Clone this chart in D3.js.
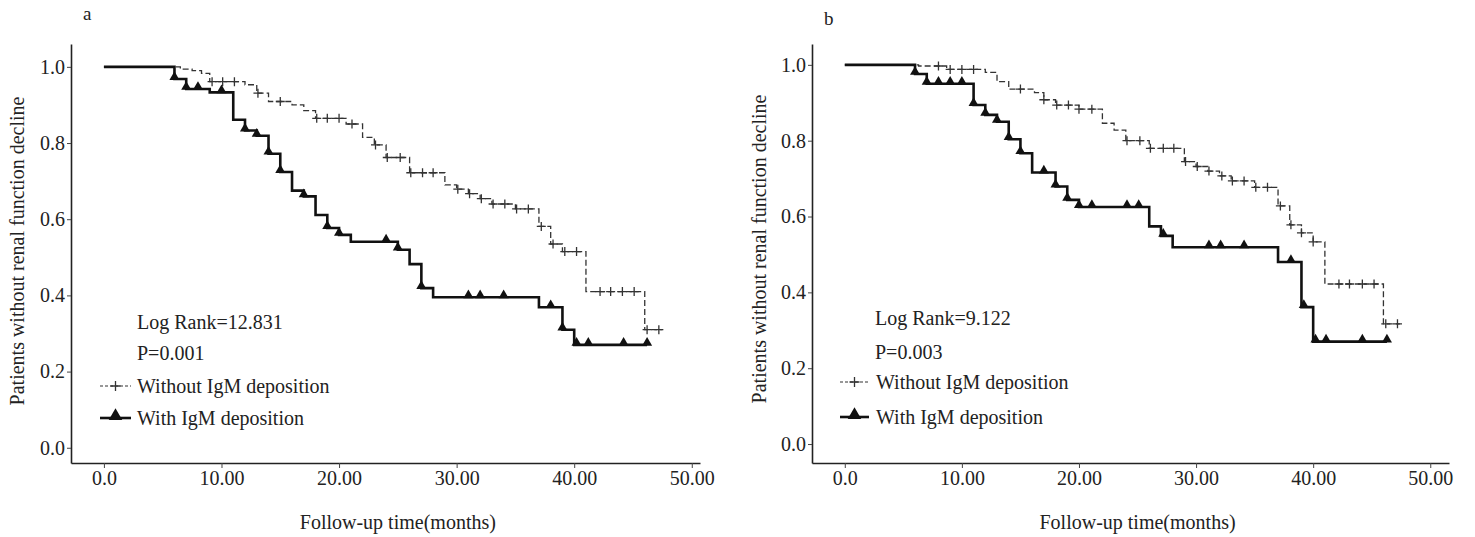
<!DOCTYPE html>
<html><head><meta charset="utf-8">
<script src="https://cdn.jsdelivr.net/npm/d3@7"></script>
<style>body{margin:0;background:#fff}svg{display:block}text{font-family:"Liberation Serif","Times New Roman",serif;fill:#222}</style>
</head><body>
<svg id="chart" width="1475" height="537"></svg>
<script>
// ---- data ----
const timeTicks = [0, 10, 20, 30, 40, 50];
const timeTickLabels = ["0.0", "10.00", "20.00", "30.00", "40.00", "50.00"];
const survTicks = [0, 0.2, 0.4, 0.6, 0.8, 1.0];
const survTickLabels = ["0.0", "0.2", "0.4", "0.6", "0.8", "1.0"];
const seriesNames = ["Without IgM deposition", "With IgM deposition"];
const panelLetters = ["a", "b"];
const logRankTexts = ["Log Rank=12.831", "Log Rank=9.122"];
const pTexts = ["P=0.001", "P=0.003"];
const xTitle = "Follow-up time(months)";
const yTitle = "Patients without renal function decline";

// panel a
const aWithoutTime = [0, 6.5, 7.5, 8.3, 9, 12, 13, 14, 16, 17, 18, 20.6, 22, 23, 24, 26, 29, 30, 31, 32, 33, 35, 37, 38, 39, 41, 46];
const aWithoutSurv = [1, 0.994, 0.99, 0.983, 0.961, 0.953, 0.931, 0.909, 0.90, 0.885, 0.865, 0.85, 0.815, 0.795, 0.762, 0.722, 0.69, 0.679, 0.667, 0.654, 0.64, 0.627, 0.581, 0.535, 0.515, 0.41, 0.31];
const aWithoutCensor = [9.2, 10.1, 11.1, 13.1, 15, 18.1, 19, 20, 21.1, 23.1, 24.1, 25.2, 26.1, 27.1, 28, 30.1, 31.1, 32.1, 33.1, 34.1, 35.1, 36.1, 37.2, 38.2, 39.2, 40.2, 42.2, 43.1, 44.1, 45.1, 46.2, 47.2];
const aWithoutEnd = 47.5;
const aWithTime = [0, 6, 7, 9, 11, 12, 13, 14, 15, 16, 17, 18, 19, 20, 21, 25, 26, 27, 28, 37, 39, 40];
const aWithSurv = [1, 0.968, 0.942, 0.933, 0.861, 0.833, 0.819, 0.772, 0.724, 0.675, 0.66, 0.611, 0.577, 0.559, 0.541, 0.52, 0.482, 0.419, 0.395, 0.369, 0.31, 0.27];
const aWithCensor = [6, 7, 8, 10, 12, 13, 14, 15, 17, 19, 20, 24, 25, 27, 31, 32, 34, 38, 39, 40.2, 41.2, 44.2, 46.2];
const aWithEnd = 46.2;

// panel b
const bWithoutTime = [0, 6.3, 8.7, 12, 13, 14, 16.2, 17, 18, 20, 22, 23, 24, 26, 29, 30, 31, 32, 33, 35, 37, 38, 39, 40, 41, 46];
const bWithoutSurv = [1, 0.997, 0.988, 0.98, 0.956, 0.936, 0.927, 0.908, 0.894, 0.883, 0.846, 0.828, 0.8, 0.78, 0.745, 0.732, 0.72, 0.707, 0.694, 0.677, 0.628, 0.578, 0.557, 0.533, 0.422, 0.317];
const bWithoutCensor = [8, 9, 10, 11, 15, 17, 18.1, 19.1, 20, 21.1, 24.1, 25.2, 26.1, 27.2, 28.1, 29.1, 30.1, 31.1, 32.2, 33.1, 34.1, 35.1, 36.1, 37.2, 38.1, 39, 40, 42.2, 43.1, 44.2, 45.2, 46.2, 47.2];
const bWithoutEnd = 47.4;
const bWithTime = [0, 6, 7, 11, 12, 13, 14, 15, 16, 18, 19, 20, 26, 27, 28, 37, 39, 40];
const bWithSurv = [1, 0.976, 0.95, 0.894, 0.868, 0.85, 0.804, 0.767, 0.716, 0.679, 0.644, 0.625, 0.574, 0.549, 0.519, 0.48, 0.361, 0.27];
const bWithCensor = [6, 7, 8, 9, 10, 11, 12, 13, 14, 15, 17, 18, 19, 20, 21.1, 24.1, 25.1, 27.2, 31.1, 32.1, 34.1, 38.1, 39.2, 40.2, 41.1, 44.2, 46.3];
const bWithEnd = 46.3;

// ---- layout ----
const panels = [
  {letter: panelLetters[0], lr: logRankTexts[0], p: pTexts[0],
   xDom: [-2.8, 50.7], xRange: [71, 700], yDom: [-0.04, 1.06], yRange: [463, 44],
   textX: 137, lrY: 322, pY: 353, leg1Y: 386, leg2Y: 418, legX0: 100, legX1: 131, legTextX: 137,
   letterX: 83, letterY: 13, yTitleX: 17, yTitleY: 251,
   without: {t: aWithoutTime, s: aWithoutSurv, c: aWithoutCensor, end: aWithoutEnd},
   with_: {t: aWithTime, s: aWithSurv, c: aWithCensor, end: aWithEnd}},
  {letter: panelLetters[1], lr: logRankTexts[1], p: pTexts[1],
   xDom: [-2.8, 51.6], xRange: [812, 1449], yDom: [-0.05, 1.055], yRange: [463, 44],
   textX: 875, lrY: 318, pY: 352, leg1Y: 382, leg2Y: 417, legX0: 840, legX1: 869, legTextX: 876,
   letterX: 824, letterY: 18, yTitleX: 759, yTitleY: 249,
   without: {t: bWithoutTime, s: bWithoutSurv, c: bWithoutCensor, end: bWithoutEnd},
   with_: {t: bWithTime, s: bWithSurv, c: bWithCensor, end: bWithEnd}}
];

const svg = d3.select("#chart");
const triangle = d3.symbol().type(d3.symbolTriangle).size(44);

function survAt(ser, t) {
  let v = ser.s[0];
  for (let i = 0; i < ser.t.length; i++) if (ser.t[i] <= t + 1e-9) v = ser.s[i];
  return v;
}

panels.forEach(P => {
  const x = d3.scaleLinear().domain(P.xDom).range(P.xRange);
  const y = d3.scaleLinear().domain(P.yDom).range(P.yRange);
  const g = svg.append("g");

  // axes
  const xAxis = d3.axisBottom(x).tickValues(timeTicks).tickFormat((d, i) => timeTickLabels[i]).tickSize(5).tickPadding(3).tickSizeOuter(0);
  const yAxis = d3.axisLeft(y).tickValues(survTicks).tickFormat((d, i) => survTickLabels[i]).tickSize(4).tickPadding(2).tickSizeOuter(0);
  const gx = g.append("g").attr("transform", `translate(0,${P.yRange[0]})`).call(xAxis);
  const gy = g.append("g").attr("transform", `translate(${P.xRange[0]},0)`).call(yAxis);
  [gx, gy].forEach(a => {
    a.select(".domain").attr("stroke", "#222").attr("stroke-width", 1.6);
    a.selectAll(".tick line").attr("stroke", "#444").attr("stroke-width", 1);
    a.selectAll(".tick text").attr("font-size", 20).attr("fill", "#333")
      .style("font-family", '"Liberation Serif", serif');
  });

  // titles
  g.append("text").attr("x", x(25)).attr("y", 522).attr("text-anchor", "middle")
    .attr("dominant-baseline", "central").attr("font-size", 20).text(xTitle);
  g.append("text").attr("transform", `translate(${P.yTitleX},${P.yTitleY}) rotate(-90)`)
    .attr("text-anchor", "middle").attr("dominant-baseline", "central")
    .attr("font-size", 20).text(yTitle);
  g.append("text").attr("x", P.letterX).attr("y", P.letterY).attr("dominant-baseline", "central")
    .attr("font-size", 19).text(P.letter);

  // curves
  const line = d3.line().x(d => x(d[0])).y(d => y(d[1])).curve(d3.curveStepAfter);
  function pts(ser) {
    const p = ser.t.map((t, i) => [t, ser.s[i]]);
    p.push([ser.end, ser.s[ser.s.length - 1]]);
    return p;
  }
  g.append("path").datum(pts(P.without)).attr("d", line).attr("fill", "none")
    .attr("stroke", "#333").attr("stroke-width", 1.3).attr("stroke-dasharray", "6,3");
  g.append("path").datum(pts(P.with_)).attr("d", line).attr("fill", "none")
    .attr("stroke", "#111").attr("stroke-width", 2.6);

  // censor marks
  g.selectAll(".plus").data(P.without.c).enter().append("path")
    .attr("d", d => { const cx = x(d), cy = y(survAt(P.without, d)); return `M${cx - 4.5},${cy}H${cx + 4.5}M${cx},${cy - 4.5}V${cy + 4.5}`; })
    .attr("stroke", "#333").attr("stroke-width", 1.3).attr("fill", "none");
  g.selectAll(".tri").data(P.with_.c).enter().append("path")
    .attr("d", triangle)
    .attr("transform", d => `translate(${x(d)},${y(survAt(P.with_, d)) - 2})`)
    .attr("fill", "#111");

  // annotations
  const fs = 20;
  g.append("text").attr("x", P.textX).attr("y", P.lrY).attr("dominant-baseline", "central").attr("font-size", fs).text(P.lr);
  g.append("text").attr("x", P.textX).attr("y", P.pY).attr("dominant-baseline", "central").attr("font-size", fs).text(P.p);
  // legend
  const lm = (P.legX0 + P.legX1) / 2;
  g.append("line").attr("x1", P.legX0).attr("x2", P.legX1).attr("y1", P.leg1Y).attr("y2", P.leg1Y)
    .attr("stroke", "#333").attr("stroke-width", 1.2).attr("stroke-dasharray", "3,2");
  g.append("path").attr("d", `M${lm - 5},${P.leg1Y}H${lm + 5}M${lm},${P.leg1Y - 5}V${P.leg1Y + 5}`)
    .attr("stroke", "#333").attr("stroke-width", 1.3);
  g.append("text").attr("x", P.legTextX).attr("y", P.leg1Y).attr("dominant-baseline", "central").attr("font-size", fs).text(seriesNames[0]);
  g.append("line").attr("x1", P.legX0).attr("x2", P.legX1).attr("y1", P.leg2Y).attr("y2", P.leg2Y)
    .attr("stroke", "#111").attr("stroke-width", 2.6);
  g.append("path").attr("d", d3.symbol().type(d3.symbolTriangle).size(80))
    .attr("transform", `translate(${lm},${P.leg2Y - 2})`).attr("fill", "#111");
  g.append("text").attr("x", P.legTextX).attr("y", P.leg2Y).attr("dominant-baseline", "central").attr("font-size", fs).text(seriesNames[1]);
});
</script>
</body></html>
